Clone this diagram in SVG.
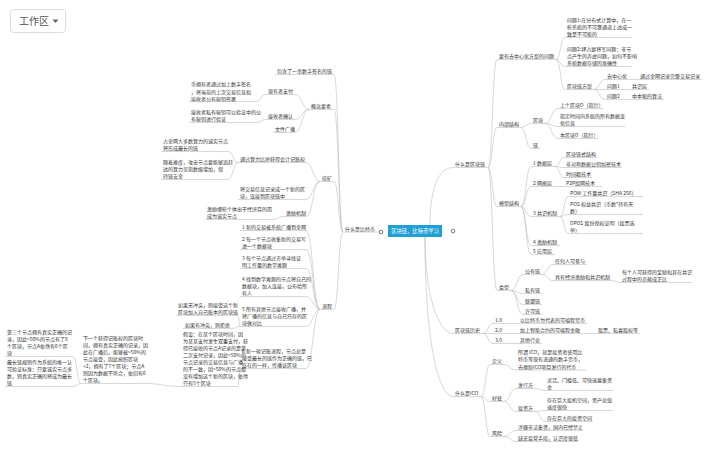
<svg xmlns="http://www.w3.org/2000/svg" width="720" height="454" viewBox="0 0 720 454">
<style>
.t{font-family:"Noto Sans CJK SC","Noto Sans",sans-serif;font-size:5px;fill:#333}
.u{stroke:#bdbdbd;stroke-width:0.6;fill:none}
.c{stroke:#bdbdbd;stroke-width:0.6;fill:none}
.dot{fill:#fff;stroke:#555;stroke-width:0.8}
</style>
<rect width="720" height="454" fill="#fff"/>
<g id="workspace">
<rect x="10.5" y="9.5" width="55" height="23" rx="3" fill="#fff" stroke="#dcdcdc"/>
<text x="19" y="25" style="font-family:'Noto Sans CJK SC',sans-serif;font-size:10px;fill:#555">工作区</text>
<path d="M52.5,19.5 L58.5,19.5 L55.5,23 Z" fill="#666"/>
</g>
<g id="connectors">
<path class="c" d="M343,232 C338.5,232 338.5,74.5 334,74.5"/>
<path class="c" d="M343,232 C338.5,232 338.5,109.5 334,109.5"/>
<path class="c" d="M343,232 C338.5,232 338.5,181.5 334,181.5"/>
<path class="c" d="M343,232 C338.5,232 338.5,309.5 334,309.5"/>
<path class="c" d="M309,109.5 C302,109.5 302,94.5 295,94.5"/>
<path class="c" d="M309,109.5 C302,109.5 302,119.5 295,119.5"/>
<path class="c" d="M309,109.5 C302,109.5 302,132.5 295,132.5"/>
<path class="c" d="M266,94.5 C261,94.5 261,101.5 256,101.5"/>
<path class="c" d="M266,119.5 C261,119.5 261,122.5 256,122.5"/>
<path class="c" d="M320,181.5 C313,181.5 313,162.5 306,162.5"/>
<path class="c" d="M320,181.5 C313,181.5 313,199.5 306,199.5"/>
<path class="c" d="M320,181.5 C313,181.5 313,216.5 306,216.5"/>
<path class="c" d="M238,162.5 C233,162.5 233,151.5 228,151.5"/>
<path class="c" d="M238,162.5 C233,162.5 233,179.5 228,179.5"/>
<path class="c" d="M284,216.5 C278,216.5 278,219.5 272,219.5"/>
<path class="c" d="M320,309.5 C313,309.5 313,230.5 306,230.5"/>
<path class="c" d="M320,309.5 C313,309.5 313,249.5 306,249.5"/>
<path class="c" d="M320,309.5 C313,309.5 313,268.5 306,268.5"/>
<path class="c" d="M320,309.5 C313,309.5 313,296.5 306,296.5"/>
<path class="c" d="M320,309.5 C313,309.5 313,326.5 306,326.5"/>
<path class="c" d="M320,309.5 C313,309.5 313,368.5 306,368.5"/>
<path class="c" d="M240,326.5 C239,326.5 239,315.5 238,315.5"/>
<path class="c" d="M240,326.5 C236,326.5 236,328.5 232,328.5"/>
<path class="c" d="M240,368.5 C239,368.5 239,386.5 238,386.5"/>
<path class="c" d="M181,386.5 C163,386.5 163,383.5 145,383.5"/>
<path class="c" d="M81,383.5 C77,383.5 77,356.5 73,356.5"/>
<path class="c" d="M81,383.5 C77,383.5 77,386.5 73,386.5"/>
<path class="c" d="M430,225 C430,185 440,167.5 453,167.5"/>
<path class="c" d="M425,237 C425,300 440,333.5 453,333.5"/>
<path class="c" d="M425,237 C425,350 440,396.5 453,396.5"/>
<path class="c" d="M488,167.5 C492.5,167.5 492.5,59.5 497,59.5"/>
<path class="c" d="M488,167.5 C492.5,167.5 492.5,127.5 497,127.5"/>
<path class="c" d="M488,167.5 C492.5,167.5 492.5,206.5 497,206.5"/>
<path class="c" d="M488,167.5 C492.5,167.5 492.5,290.5 497,290.5"/>
<path class="c" d="M556,59.5 C560.5,59.5 560.5,37.5 565,37.5"/>
<path class="c" d="M556,59.5 C560.5,59.5 560.5,66.5 565,66.5"/>
<path class="c" d="M556,59.5 C560.5,59.5 560.5,89.5 565,89.5"/>
<path class="c" d="M594,89.5 C599.5,89.5 599.5,79.5 605,79.5"/>
<path class="c" d="M594,89.5 L605,89.5"/>
<path class="c" d="M594,89.5 C599.5,89.5 599.5,99.5 605,99.5"/>
<path class="c" d="M627,79.5 L638,79.5"/>
<path class="c" d="M622,89.5 L630,89.5"/>
<path class="c" d="M622,99.5 L630,99.5"/>
<path class="c" d="M521,127.5 C526,127.5 526,123.5 531,123.5"/>
<path class="c" d="M521,127.5 C526,127.5 526,148.5 531,148.5"/>
<path class="c" d="M545,123.5 C551.5,123.5 551.5,108.5 558,108.5"/>
<path class="c" d="M545,123.5 C551.5,123.5 551.5,126.5 558,126.5"/>
<path class="c" d="M545,123.5 C551.5,123.5 551.5,138.5 558,138.5"/>
<path class="c" d="M521,206.5 C526,206.5 526,166.5 531,166.5"/>
<path class="c" d="M521,206.5 C526,206.5 526,186.5 531,186.5"/>
<path class="c" d="M521,206.5 C526,206.5 526,216.5 531,216.5"/>
<path class="c" d="M521,206.5 C526,206.5 526,245.5 531,245.5"/>
<path class="c" d="M521,206.5 C526,206.5 526,254.5 531,254.5"/>
<path class="c" d="M555,166.5 C559.5,166.5 559.5,157.5 564,157.5"/>
<path class="c" d="M555,166.5 C559.5,166.5 559.5,167.5 564,167.5"/>
<path class="c" d="M555,166.5 C559.5,166.5 559.5,177.5 564,177.5"/>
<path class="c" d="M555,186.5 L564,186.5"/>
<path class="c" d="M560,216.5 C564,216.5 564,196.5 568,196.5"/>
<path class="c" d="M560,216.5 C564,216.5 564,214.5 568,214.5"/>
<path class="c" d="M560,216.5 C564,216.5 564,233.5 568,233.5"/>
<path class="c" d="M511,290.5 C517,290.5 517,274.5 523,274.5"/>
<path class="c" d="M511,290.5 C517,290.5 517,293.5 523,293.5"/>
<path class="c" d="M511,290.5 C517,290.5 517,304.5 523,304.5"/>
<path class="c" d="M511,290.5 C517,290.5 517,314.5 523,314.5"/>
<path class="c" d="M542,274.5 C547.5,274.5 547.5,264.5 553,264.5"/>
<path class="c" d="M542,274.5 C547.5,274.5 547.5,280.5 553,280.5"/>
<path class="c" d="M612,280.5 C616,280.5 616,282.5 620,282.5"/>
<path class="c" d="M483,333.5 C488,333.5 488,323.5 493,323.5"/>
<path class="c" d="M483,333.5 L493,333.5"/>
<path class="c" d="M483,333.5 C488,333.5 488,343.5 493,343.5"/>
<path class="c" d="M508,323.5 L518,323.5"/>
<path class="c" d="M508,333.5 L518,333.5"/>
<path class="c" d="M508,343.5 L518,343.5"/>
<path class="c" d="M582,333.5 L596,333.5"/>
<path class="c" d="M481,396.5 C485.5,396.5 485.5,364.5 490,364.5"/>
<path class="c" d="M481,396.5 C485.5,396.5 485.5,401.5 490,401.5"/>
<path class="c" d="M481,396.5 C485.5,396.5 485.5,436.5 490,436.5"/>
<path class="c" d="M504,364.5 C510,364.5 510,370 516,370"/>
<path class="c" d="M504,401.5 C510,401.5 510,388.5 516,388.5"/>
<path class="c" d="M504,401.5 C510,401.5 510,411.5 516,411.5"/>
<path class="c" d="M535,388.5 C540,388.5 540,390.5 545,390.5"/>
<path class="c" d="M535,411.5 C540,411.5 540,410.5 545,410.5"/>
<path class="c" d="M535,411.5 C540,411.5 540,421.5 545,421.5"/>
<path class="c" d="M504,436.5 C510,436.5 510,430.5 516,430.5"/>
<path class="c" d="M504,436.5 C510,436.5 510,441.5 516,441.5"/>
</g>
<g id="root">
<rect x="388" y="225" width="54" height="12" fill="#1fa0d5"/>
<text x="415" y="232.8" text-anchor="middle" style="font-family:'Noto Sans CJK SC',sans-serif;font-size:5.3px;fill:#fff">区块链，比特币学习</text>
<circle class="dot" cx="453" cy="231" r="1.8"/>
</g>
<g id="n-btc"><text class="t" x="345" y="230.5">什么是比特币</text><line class="u" x1="343" y1="232" x2="379" y2="232"/><circle class="dot" cx="381" cy="232" r="1.8"/></g>
<g id="n-chain-def"><text class="t" x="277" y="73">包含了一串数字签名的链</text><line class="u" x1="275" y1="74.5" x2="334" y2="74.5"/></g>
<g id="n-concept"><text class="t" x="311" y="108">概念要素</text><line class="u" x1="309" y1="109.5" x2="334" y2="109.5"/></g>
<g id="n-pay"><text class="t" x="268" y="93">现有者支付</text><line class="u" x1="266" y1="94.5" x2="295" y2="94.5"/></g>
<g id="n-pay-d"><text class="t" x="191" y="86"><tspan x="191">币拥有者通过加上数字签名</tspan><tspan x="191" dy="7.5">，将当前的上次交易信息和</tspan><tspan x="191" dy="7.5">接收者公有秘钥签署</tspan></text><line class="u" x1="189" y1="101.5" x2="256" y2="101.5"/></g>
<g id="n-recv"><text class="t" x="268" y="118">接收者确认</text><line class="u" x1="266" y1="119.5" x2="295" y2="119.5"/></g>
<g id="n-recv-d"><text class="t" x="191" y="114"><tspan x="191">接收者私有秘钥可以验证中的公</tspan><tspan x="191" dy="7">有秘钥进行验证</tspan></text><line class="u" x1="189" y1="122.5" x2="256" y2="122.5"/></g>
<g id="n-bcast"><text class="t" x="275" y="131">文件广播</text><line class="u" x1="273" y1="132.5" x2="295" y2="132.5"/></g>
<g id="n-mine"><text class="t" x="322" y="180">挖矿</text><line class="u" x1="320" y1="181.5" x2="334" y2="181.5"/></g>
<g id="n-pow"><text class="t" x="240" y="161">通过算力比拼获得会计记账权</text><line class="u" x1="238" y1="162.5" x2="306" y2="162.5"/></g>
<g id="n-pow-a"><text class="t" x="163" y="143"><tspan x="163">占全网大多数算力的诚实节点</tspan><tspan x="163" dy="7">将形成最长的链</tspan></text><line class="u" x1="161" y1="151.5" x2="228" y2="151.5"/></g>
<g id="n-pow-b"><text class="t" x="163" y="164"><tspan x="163">随着难度，攻击节点要能够追赶</tspan><tspan x="163" dy="7">达的算力呈指数级增加，保</tspan><tspan x="163" dy="7">持链安全</tspan></text><line class="u" x1="161" y1="179.5" x2="228" y2="179.5"/></g>
<g id="n-record"><text class="t" x="240" y="191"><tspan x="240">将交易信息记录成一个新的区</tspan><tspan x="240" dy="7">块，连接到区块链中</tspan></text><line class="u" x1="238" y1="199.5" x2="306" y2="199.5"/></g>
<g id="n-incent"><text class="t" x="286" y="215">激励机制</text><line class="u" x1="284" y1="216.5" x2="306" y2="216.5"/></g>
<g id="n-incent-d"><text class="t" x="207" y="211"><tspan x="207">激励哪些个体出于经济目的而</tspan><tspan x="207" dy="7">成为诚实节点</tspan></text><line class="u" x1="205" y1="219.5" x2="272" y2="219.5"/></g>
<g id="n-flow"><text class="t" x="322" y="308">流程</text><line class="u" x1="320" y1="309.5" x2="334" y2="309.5"/></g>
<g id="n-f1"><text class="t" x="242" y="229">1 新的交易被系统广播到全网</text><line class="u" x1="240" y1="230.5" x2="306" y2="230.5"/></g>
<g id="n-f2"><text class="t" x="242" y="241"><tspan x="242">2 每一个节点收集新的交易写</tspan><tspan x="242" dy="7">进一个数据块</tspan></text><line class="u" x1="240" y1="249.5" x2="306" y2="249.5"/></g>
<g id="n-f3"><text class="t" x="242" y="260"><tspan x="242">3 每个节点通过穷举寻找证</tspan><tspan x="242" dy="7">明工作量的数学难题</tspan></text><line class="u" x1="240" y1="268.5" x2="306" y2="268.5"/></g>
<g id="n-f4"><text class="t" x="242" y="281"><tspan x="242">4 找到数学难题的节点将自己的</tspan><tspan x="242" dy="7">数据块，加入连接，公布给所</tspan><tspan x="242" dy="7">有人</tspan></text><line class="u" x1="240" y1="296.5" x2="306" y2="296.5"/></g>
<g id="n-f5"><text class="t" x="242" y="311"><tspan x="242">5 所有其他节点接收广播，并</tspan><tspan x="242" dy="7">将广播的信息与自己已存的区</tspan><tspan x="242" dy="7">块做对比</tspan></text><line class="u" x1="240" y1="326.5" x2="306" y2="326.5"/></g>
<g id="n-f5a"><text class="t" x="178" y="307"><tspan x="178">如果无冲突，则接受这个新</tspan><tspan x="178" dy="7">区块加入自己账本的区块链</tspan></text><line class="u" x1="176" y1="315.5" x2="238" y2="315.5"/></g>
<g id="n-f5b"><text class="t" x="185" y="327">如果有冲突，则拒绝</text><line class="u" x1="183" y1="328.5" x2="232" y2="328.5"/></g>
<g id="n-f6"><text class="t" x="242" y="353"><tspan x="242">6 新一轮记账流程，节点总是</tspan><tspan x="242" dy="7">接受最长的链作为正确的链，已</tspan><tspan x="242" dy="7">存在的一样，传播该区块</tspan></text><line class="u" x1="240" y1="368.5" x2="306" y2="368.5"/></g>
<g id="n-f6a"><text class="t" x="183" y="336"><tspan x="183">假设：在某个区块时间，因</tspan><tspan x="183" dy="7">为某某支付发生双重支付，获</tspan><tspan x="183" dy="7">得已接收的节点A记录的是第</tspan><tspan x="183" dy="7">二次支付记录，因此&gt;50%的</tspan><tspan x="183" dy="7">节点记录的交易信息与广播</tspan><tspan x="183" dy="7">的不一致，因&gt;50%的节点都</tspan><tspan x="183" dy="7">没有增加这个新的区块，依然</tspan><tspan x="183" dy="7">只有5个区块</tspan></text><line class="u" x1="181" y1="386.5" x2="238" y2="386.5"/></g>
<g id="n-f6b"><text class="t" x="83" y="340"><tspan x="83">下一个获得记账权的区块时</tspan><tspan x="83" dy="7">间，拥有真实正确的记录，因</tspan><tspan x="83" dy="7">此在广播后，能够被&gt;50%的</tspan><tspan x="83" dy="7">节点接受，因此按照区块</tspan><tspan x="83" dy="7">+2，拥有了7个区块；节点A</tspan><tspan x="83" dy="7">则因为数据不符合，依旧有6</tspan><tspan x="83" dy="7">个区块。</tspan></text><line class="u" x1="81" y1="383.5" x2="145" y2="383.5"/></g>
<g id="n-f6c"><text class="t" x="7" y="334"><tspan x="7">第三个节点拥有真实正确的记</tspan><tspan x="7" dy="7">录，因此&gt;50%的节点有了8</tspan><tspan x="7" dy="7">个区块，节点A依然有6个区</tspan><tspan x="7" dy="7">块</tspan></text><line class="u" x1="5" y1="356.5" x2="73" y2="356.5"/></g>
<g id="n-f6d"><text class="t" x="7" y="364"><tspan x="7">最长链规则作为系统的唯一认</tspan><tspan x="7" dy="7">可验证标准：只要诚实节点多</tspan><tspan x="7" dy="7">数，则真实正确的将成为最长</tspan><tspan x="7" dy="7">链</tspan></text><line class="u" x1="5" y1="386.5" x2="73" y2="386.5"/></g>
<g id="n-bc"><text class="t" x="455" y="166">什么是区块链</text><line class="u" x1="453" y1="167.5" x2="488" y2="167.5"/></g>
<g id="n-prob"><text class="t" x="499" y="58">要有去中心化方案的问题</text><line class="u" x1="497" y1="59.5" x2="556" y2="59.5"/></g>
<g id="n-q1"><text class="t" x="567" y="22"><tspan x="567">问题1:在分布式计算中，在一</tspan><tspan x="567" dy="7">些系统的不可靠通道上达成一</tspan><tspan x="567" dy="7">致是不可能的</tspan></text><line class="u" x1="565" y1="37.5" x2="632" y2="37.5"/></g>
<g id="n-q2"><text class="t" x="567" y="51"><tspan x="567">问题2:拜占庭将军问题：非节</tspan><tspan x="567" dy="7">点产生的弄虚问题，如何不影响</tspan><tspan x="567" dy="7">系统数据存储的准确性</tspan></text><line class="u" x1="565" y1="66.5" x2="632" y2="66.5"/></g>
<g id="n-plan"><text class="t" x="567" y="88">区块链方案</text><line class="u" x1="565" y1="89.5" x2="594" y2="89.5"/></g>
<g id="n-dec"><text class="t" x="607" y="78">去中心化</text><line class="u" x1="605" y1="79.5" x2="627" y2="79.5"/></g>
<g id="n-dec-d"><text class="t" x="640" y="78">通过全网记录完整交易记录</text><line class="u" x1="638" y1="79.5" x2="702" y2="79.5"/></g>
<g id="n-p1"><text class="t" x="607" y="88">问题1</text><line class="u" x1="605" y1="89.5" x2="622" y2="89.5"/></g>
<g id="n-p1-d"><text class="t" x="632" y="88">共识层</text><line class="u" x1="630" y1="89.5" x2="649" y2="89.5"/></g>
<g id="n-p2"><text class="t" x="607" y="98">问题2</text><line class="u" x1="605" y1="99.5" x2="622" y2="99.5"/></g>
<g id="n-p2-d"><text class="t" x="632" y="98">中本聪的算法</text><line class="u" x1="630" y1="99.5" x2="664" y2="99.5"/></g>
<g id="n-inner"><text class="t" x="499" y="126">内部结构</text><line class="u" x1="497" y1="127.5" x2="521" y2="127.5"/></g>
<g id="n-block"><text class="t" x="533" y="122">区块</text><line class="u" x1="531" y1="123.5" x2="545" y2="123.5"/></g>
<g id="n-b1"><text class="t" x="560" y="107">上个区块D（指针）</text><line class="u" x1="558" y1="108.5" x2="603" y2="108.5"/></g>
<g id="n-b2"><text class="t" x="560" y="118"><tspan x="560">指定时间内系统的所有数据变</tspan><tspan x="560" dy="7">化信息</tspan></text><line class="u" x1="558" y1="126.5" x2="625" y2="126.5"/></g>
<g id="n-b3"><text class="t" x="560" y="137">本区块D（指针）</text><line class="u" x1="558" y1="138.5" x2="598" y2="138.5"/></g>
<g id="n-link"><text class="t" x="533" y="147">链</text><line class="u" x1="531" y1="148.5" x2="540" y2="148.5"/></g>
<g id="n-model"><text class="t" x="499" y="205">模型结构</text><line class="u" x1="497" y1="206.5" x2="521" y2="206.5"/></g>
<g id="n-m1"><text class="t" x="533" y="165">1 数据层</text><line class="u" x1="531" y1="166.5" x2="555" y2="166.5"/></g>
<g id="n-m1a"><text class="t" x="566" y="156">区块链式结构</text><line class="u" x1="564" y1="157.5" x2="597" y2="157.5"/></g>
<g id="n-m1b"><text class="t" x="566" y="166">非对称数据公钥加密技术</text><line class="u" x1="564" y1="167.5" x2="622" y2="167.5"/></g>
<g id="n-m1c"><text class="t" x="566" y="176">时间戳技术</text><line class="u" x1="564" y1="177.5" x2="592" y2="177.5"/></g>
<g id="n-m2"><text class="t" x="533" y="185">2 网络层</text><line class="u" x1="531" y1="186.5" x2="555" y2="186.5"/></g>
<g id="n-m2a"><text class="t" x="566" y="185">P2P组网技术</text><line class="u" x1="564" y1="186.5" x2="602" y2="186.5"/></g>
<g id="n-m3"><text class="t" x="533" y="215">3 共识机制</text><line class="u" x1="531" y1="216.5" x2="560" y2="216.5"/></g>
<g id="n-m3a"><text class="t" x="570" y="195">POW 工作量共识（SHA 256）</text><line class="u" x1="568" y1="196.5" x2="643" y2="196.5"/></g>
<g id="n-m3b"><text class="t" x="570" y="206"><tspan x="570">POS 权益共识（币数*持有天</tspan><tspan x="570" dy="7">数）</tspan></text><line class="u" x1="568" y1="214.5" x2="643" y2="214.5"/></g>
<g id="n-m3c"><text class="t" x="570" y="225"><tspan x="570">DPOS 股份授权证明（投票选</tspan><tspan x="570" dy="7">举）</tspan></text><line class="u" x1="568" y1="233.5" x2="643" y2="233.5"/></g>
<g id="n-m4"><text class="t" x="533" y="244">4 激励机制</text><line class="u" x1="531" y1="245.5" x2="560" y2="245.5"/></g>
<g id="n-m5"><text class="t" x="533" y="253">5 应用层</text><line class="u" x1="531" y1="254.5" x2="555" y2="254.5"/></g>
<g id="n-type"><text class="t" x="499" y="289">类型</text><line class="u" x1="497" y1="290.5" x2="511" y2="290.5"/></g>
<g id="n-pub"><text class="t" x="525" y="273">公有链</text><line class="u" x1="523" y1="274.5" x2="542" y2="274.5"/></g>
<g id="n-pub1"><text class="t" x="555" y="263">任何人可参与</text><line class="u" x1="553" y1="264.5" x2="587" y2="264.5"/></g>
<g id="n-pub2"><text class="t" x="555" y="279">具有经济激励和共识机制</text><line class="u" x1="553" y1="280.5" x2="612" y2="280.5"/></g>
<g id="n-pub2a"><text class="t" x="622" y="274"><tspan x="622">每个人可获得的奖励和其在共识</tspan><tspan x="622" dy="7">过程中的贡献成正比</tspan></text><line class="u" x1="620" y1="282.5" x2="692" y2="282.5"/></g>
<g id="n-priv"><text class="t" x="525" y="292">私有链</text><line class="u" x1="523" y1="293.5" x2="542" y2="293.5"/></g>
<g id="n-cons"><text class="t" x="525" y="303">联盟链</text><line class="u" x1="523" y1="304.5" x2="542" y2="304.5"/></g>
<g id="n-perm"><text class="t" x="525" y="313">许可链</text><line class="u" x1="523" y1="314.5" x2="542" y2="314.5"/></g>
<g id="n-hist"><text class="t" x="455" y="332">区块链历史</text><line class="u" x1="453" y1="333.5" x2="483" y2="333.5"/></g>
<g id="n-h1"><text class="t" x="495" y="322">1.0</text><line class="u" x1="493" y1="323.5" x2="508" y2="323.5"/></g>
<g id="n-h1a"><text class="t" x="520" y="322">以比特币为代表的可编程货币</text><line class="u" x1="518" y1="323.5" x2="587" y2="323.5"/></g>
<g id="n-h2"><text class="t" x="495" y="332">2.0</text><line class="u" x1="493" y1="333.5" x2="508" y2="333.5"/></g>
<g id="n-h2a"><text class="t" x="520" y="332">加上智能合约的可编程金融</text><line class="u" x1="518" y1="333.5" x2="582" y2="333.5"/></g>
<g id="n-h2b"><text class="t" x="598" y="332">股票、私募股权等</text><line class="u" x1="596" y1="333.5" x2="640" y2="333.5"/></g>
<g id="n-h3"><text class="t" x="495" y="342">3.0</text><line class="u" x1="493" y1="343.5" x2="508" y2="343.5"/></g>
<g id="n-h3a"><text class="t" x="520" y="342">其他行业</text><line class="u" x1="518" y1="343.5" x2="542" y2="343.5"/></g>
<g id="n-ico"><text class="t" x="455" y="395">什么是ICO</text><line class="u" x1="453" y1="396.5" x2="481" y2="396.5"/></g>
<g id="n-def"><text class="t" x="492" y="363">定义</text><line class="u" x1="490" y1="364.5" x2="504" y2="364.5"/></g>
<g id="n-def-d"><text class="t" x="518" y="353.5"><tspan x="518">所谓 ICO，就是投资者使用比</tspan><tspan x="518" dy="7.5">特币等现有流通的数字货币，</tspan><tspan x="518" dy="7.5">去换取ICO项目发行的代币</tspan></text><line class="u" x1="516" y1="370" x2="586" y2="370"/></g>
<g id="n-good"><text class="t" x="492" y="400">好处</text><line class="u" x1="490" y1="401.5" x2="504" y2="401.5"/></g>
<g id="n-issuer"><text class="t" x="518" y="387">发行方</text><line class="u" x1="516" y1="388.5" x2="535" y2="388.5"/></g>
<g id="n-issuer-d"><text class="t" x="547" y="382"><tspan x="547">灵活、门槛低、可快速募集资</tspan><tspan x="547" dy="7">金</tspan></text><line class="u" x1="545" y1="390.5" x2="613" y2="390.5"/></g>
<g id="n-inv"><text class="t" x="518" y="410">投资方</text><line class="u" x1="516" y1="411.5" x2="535" y2="411.5"/></g>
<g id="n-inv-a"><text class="t" x="547" y="402"><tspan x="547">存在巨大投机空间，资产总值</tspan><tspan x="547" dy="7">速度很快</tspan></text><line class="u" x1="545" y1="410.5" x2="613" y2="410.5"/></g>
<g id="n-inv-b"><text class="t" x="547" y="420">存在巨大的投资空间</text><line class="u" x1="545" y1="421.5" x2="593" y2="421.5"/></g>
<g id="n-risk"><text class="t" x="492" y="435">风险</text><line class="u" x1="490" y1="436.5" x2="504" y2="436.5"/></g>
<g id="n-risk-a"><text class="t" x="518" y="429">涉嫌非法集资，国内已经禁止</text><line class="u" x1="516" y1="430.5" x2="583" y2="430.5"/></g>
<g id="n-risk-b"><text class="t" x="518" y="440">缺乏监管手段，认识度很低</text><line class="u" x1="516" y1="441.5" x2="578" y2="441.5"/></g>
</svg>
